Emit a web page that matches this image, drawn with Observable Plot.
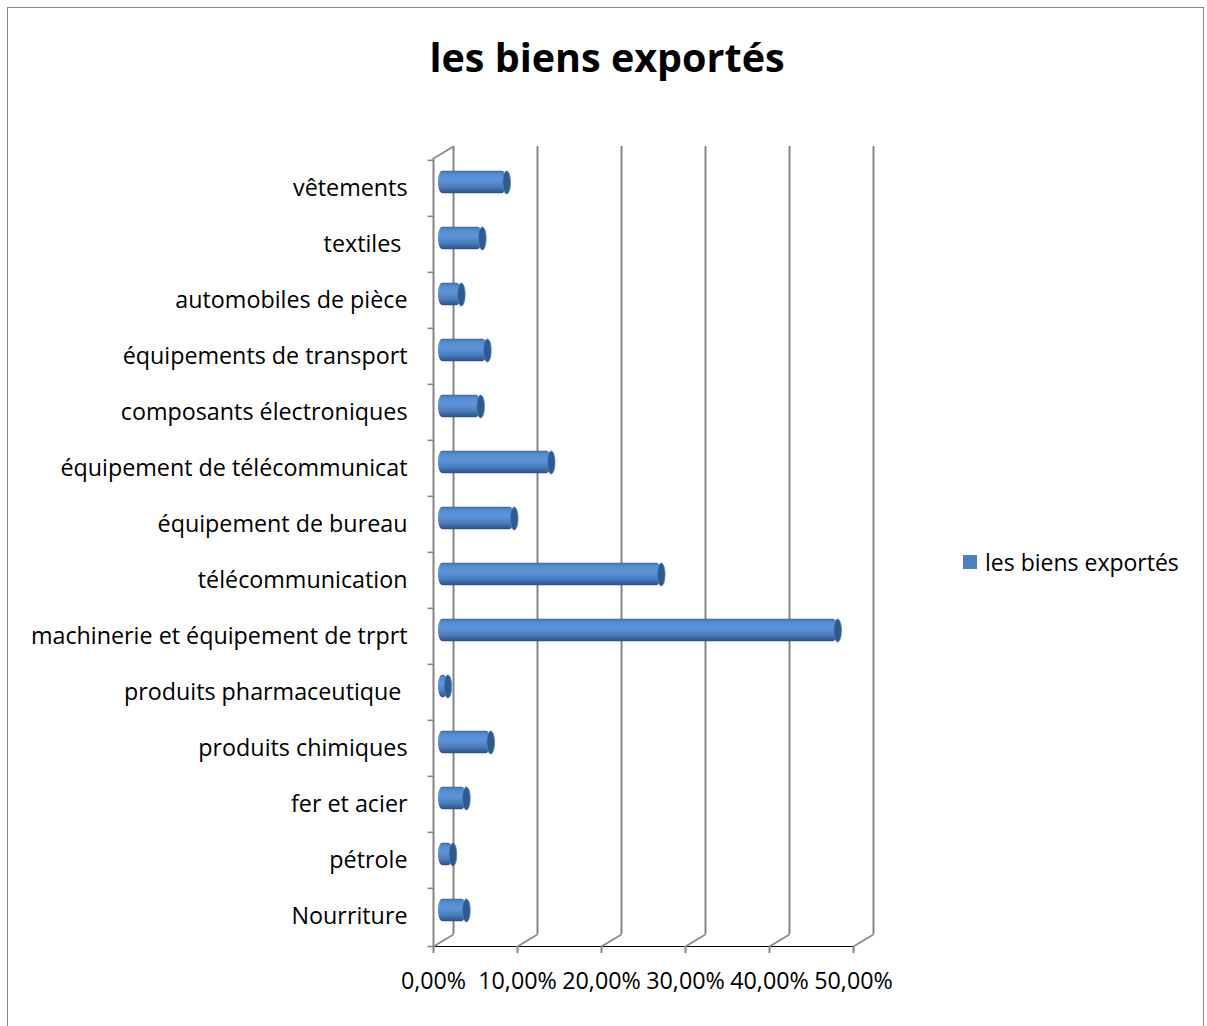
<!DOCTYPE html>
<html>
<head>
<meta charset="utf-8">
<script src="https://cdn.jsdelivr.net/npm/d3@7"></script>
<script src="https://cdn.jsdelivr.net/npm/@observablehq/plot@0.6"></script>
<style>
  body { margin: 0; background: #fff; }
  #page { position: relative; width: 1207px; height: 1026px; overflow: hidden; background: #fff; font-family: "Open Sans", sans-serif; }
  #frame { position: absolute; left: 7px; top: 7px; width: 1197px; height: 1060px; border: 1.5px solid #868686; box-sizing: border-box; }
  #title { position: absolute; left: 0; width: 1214px; top: 33px; text-align: center; font-weight: bold; font-size: 39.5px; line-height: 48px; color: #000; }
  #chart { position: absolute; left: 0; top: 100px; }
  #legend { position: absolute; left: 963px; top: 547px; font-size: 23px; line-height: 30px; color: #000; display: flex; align-items: center; }
  #legend .sw { width: 14px; height: 14px; background: #4f81bd; margin-right: 8px; }
  #chart g[aria-label="bar"] rect { fill: url(#cyl); }
  #chart g[aria-label^="x-axis"] line, #chart g[aria-label^="x-axis"] path { stroke: #868686; stroke-width: 2px; }
</style>
</head>
<body>
<svg width="0" height="0" style="position:absolute">
  <defs>
    <linearGradient id="cyl" x1="0" y1="0" x2="0" y2="1">
      <stop offset="0" stop-color="#3a68a3"/>
      <stop offset="0.12" stop-color="#5587cb"/>
      <stop offset="0.4" stop-color="#5f96dc"/>
      <stop offset="0.7" stop-color="#4b7ec1"/>
      <stop offset="0.9" stop-color="#33609a"/>
      <stop offset="1" stop-color="#2a4f80"/>
    </linearGradient>
  </defs>
</svg>
<div id="page">
  <div id="frame"></div>
  <div id="title">les biens exportés</div>
  <div id="chart"></div>
  <div id="legend"><div class="sw"></div><span>les biens exportés</span></div>
</div>
<script>
// ---- data ----
const categories = [
  "vêtements",
  "textiles ",
  "automobiles de pièce",
  "équipements de transport",
  "composants électroniques",
  "équipement de télécommunicat",
  "équipement de bureau",
  "télécommunication",
  "machinerie et équipement de trprt",
  "produits pharmaceutique ",
  "produits chimiques",
  "fer et acier",
  "pétrole",
  "Nourriture"
];
const values = [0.077, 0.048, 0.023, 0.054, 0.046, 0.13, 0.086, 0.261, 0.471, 0.007, 0.058, 0.029, 0.013, 0.029];
const xTicks = [0, 0.1, 0.2, 0.3, 0.4, 0.5];
const seriesName = "les biens exportés";

const data = categories.map((c, i) => ({category: c, value: values[i]}));

// ---- layout / style ----
const W = 940, H = 920, mT = 58, mB = 74, mL = 433, mR = 87;
const bw = (H - mT - mB) / categories.length;
const barH = 23;
const inset = (bw - barH) / 2;
const depthX = 20, depthY = -12;   // 3D back-wall offset
const barDx = 8.5, barDy = -6;     // bars sit in the middle of the depth
const gray = "#868686";

const diag = {draw(ctx) { ctx.moveTo(0, 0); ctx.lineTo(depthX, depthY); }};
const leftTick = {draw(ctx) { ctx.moveTo(0, 0); ctx.lineTo(-6, 0); }};
const ellipse = {draw(ctx) {
  const rx = 3.8, ry = barH / 2, k = 0.5523;
  ctx.moveTo(rx, 0);
  ctx.bezierCurveTo(rx, ry * k, rx * k, ry, 0, ry);
  ctx.bezierCurveTo(-rx * k, ry, -rx, ry * k, -rx, 0);
  ctx.bezierCurveTo(-rx, -ry * k, -rx * k, -ry, 0, -ry);
  ctx.bezierCurveTo(rx * k, -ry, rx, -ry * k, rx, 0);
  ctx.closePath();
}};

const fmt = d => (d * 100).toFixed(2).replace(".", ",") + "%";

document.getElementById("legend").querySelector("span").textContent = seriesName;

const chart = Plot.plot({
  width: W, height: H,
  marginTop: mT, marginBottom: mB, marginLeft: mL, marginRight: mR,
  style: {fontFamily: "'Open Sans', sans-serif", fontSize: "23.3px", color: "#000", background: "transparent", overflow: "visible"},
  x: {domain: [0, 0.5], ticks: xTicks, tickFormat: fmt, tickSize: 7, tickPadding: 19, label: null, line: true},
  y: {domain: categories, padding: 0, tickSize: 0, tickPadding: 26, label: null},
  marks: [
    // back wall gridlines
    Plot.ruleX(xTicks, {x: d => d, dx: depthX, dy: depthY, stroke: gray, strokeWidth: 2}),
    // front left axis line
    Plot.ruleX([0], {stroke: gray, strokeWidth: 2}),
    // floor diagonals
    Plot.dot(xTicks, {x: d => d, frameAnchor: "bottom", symbol: diag, stroke: gray, strokeWidth: 1.5, fill: "none"}),
    // top-left diagonal
    Plot.dot([0], {x: d => d, frameAnchor: "top", symbol: diag, stroke: gray, strokeWidth: 1.5, fill: "none"}),
    // left axis category boundary ticks
    Plot.dot(categories, {x: () => 0, y: d => d, dy: -bw / 2, symbol: leftTick, stroke: gray, strokeWidth: 1.5, fill: "none"}),
    Plot.dot([0], {x: d => d, frameAnchor: "bottom", symbol: leftTick, stroke: gray, strokeWidth: 1.5, fill: "none"}),
    // cylinder bodies
    Plot.barX(data, {x: "value", y: "category", dx: barDx, dy: barDy, insetTop: inset, insetBottom: inset, insetLeft: -3.5, rx: 4, ry: barH / 2, fill: "#4f81bd"}),
    // cylinder end caps
    Plot.dot(data, {x: "value", y: "category", dx: barDx, dy: barDy, symbol: ellipse, fill: "#2f5a8e", stroke: "#5283c4", strokeWidth: 0.8})
  ]
});
document.getElementById("chart").appendChild(chart);
</script>
</body>
</html>
